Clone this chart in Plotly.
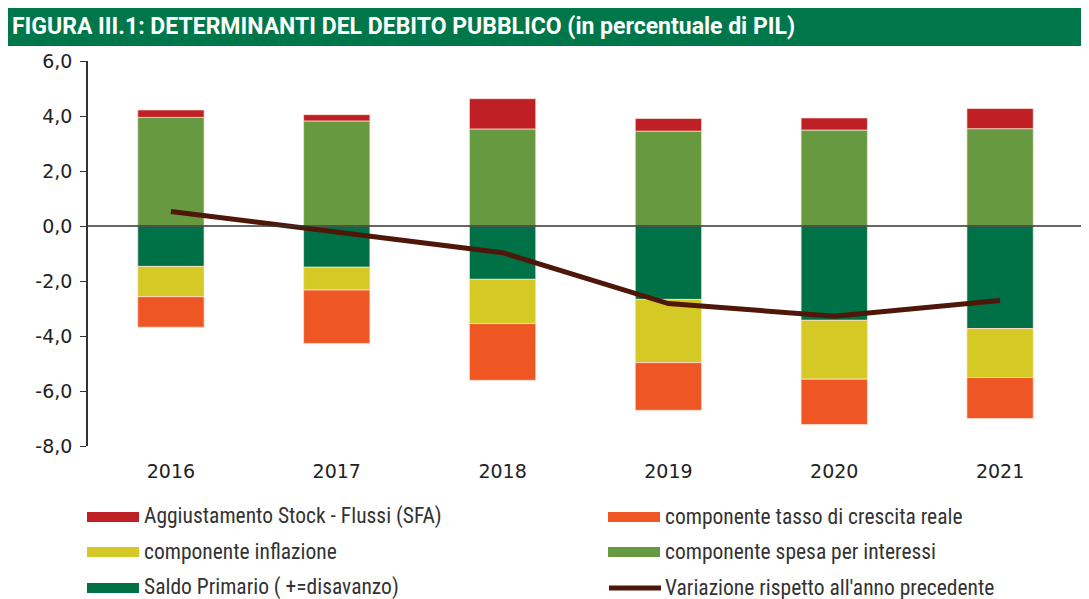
import plotly.graph_objects as go

years = ["2016", "2017", "2018", "2019", "2020", "2021"]
saldo_primario = [-1.47, -1.50, -1.94, -2.67, -3.43, -3.73]
spesa_interessi = [3.95, 3.82, 3.53, 3.45, 3.49, 3.54]
inflazione = [-1.10, -0.83, -1.61, -2.30, -2.14, -1.78]
crescita_reale = [-1.11, -1.94, -2.06, -1.73, -1.65, -1.49]
sfa = [0.27, 0.23, 1.10, 0.46, 0.44, 0.73]
variazione = [0.53, -0.20, -0.97, -2.82, -3.28, -2.71]
y_tick_vals = [6, 4, 2, 0, -2, -4, -6, -8]
y_tick_text = ["6,0", "4,0", "2,0", "0,0", "-2,0", "-4,0", "-6,0", "-8,0"]

names = {
    "sfa": "Aggiustamento Stock - Flussi (SFA)",
    "cr": "componente tasso di crescita reale",
    "inf": "componente inflazione",
    "int": "componente spesa per interessi",
    "sp": "Saldo Primario ( +=disavanzo)",
    "var": "Variazione rispetto all'anno precedente",
}
colors = {
    "sfa": "#be2026",
    "cr": "#ee5624",
    "inf": "#d5c925",
    "int": "#679940",
    "sp": "#007147",
    "var": "#4e1709",
}

OFF = 8  # page body margin
W, H = 1089 - OFF, 599 - OFF
ML, MR, MT, MB = 88 - OFF, 6, 61 - OFF, 153
PW = W - ML - MR
PH = H - MT - MB

COND = "Roboto Condensed, DejaVu Sans Condensed, Roboto, sans-serif"
TICKF = "DejaVu Sans, Liberation Sans, sans-serif"

fig = go.Figure()
xs = list(range(len(years)))
for key, vals in [("sp", saldo_primario), ("int", spesa_interessi), ("inf", inflazione),
                  ("cr", crescita_reale), ("sfa", sfa)]:
    fig.add_trace(go.Bar(
        x=xs, y=vals, name=names[key], showlegend=False,
        marker=dict(color=colors[key], line=dict(color="rgba(255,230,220,0.7)", width=1)),
    ))
fig.add_trace(go.Scatter(
    x=xs, y=variazione, mode="lines", name=names["var"], showlegend=False,
    line=dict(color=colors["var"], width=5),
))


def px(x):
    return (x - OFF - ML) / PW


def py(y):
    return (H - MB - (y - OFF)) / PH


shapes = []
annotations = []
# zero line drawn over the bars
shapes.append(dict(type="line", xref="paper", yref="y", x0=0, x1=1, y0=0, y1=0,
                   line=dict(color="#333333", width=1.5), layer="above"))
# title banner
shapes.append(dict(type="rect", xref="paper", yref="paper", x0=px(7), x1=px(1095),
                   y0=py(46), y1=py(6), fillcolor="#00774a", line=dict(width=0), layer="above"))
annotations.append(dict(xref="paper", yref="paper", x=px(10), y=py(26), xanchor="left",
                        yanchor="middle", showarrow=False,
                        text="<b>FIGURA III.1: DETERMINANTI DEL DEBITO PUBBLICO (in percentuale di PIL)</b>",
                        font=dict(family="Roboto, sans-serif", size=23, color="white")))

legend_items = [
    ("sfa", 87, 517, "bar"), ("cr", 608, 517, "bar"),
    ("inf", 87, 552, "bar"), ("int", 608, 552, "bar"),
    ("sp", 87, 588, "bar"), ("var", 608, 588, "line"),
]
for key, lx, ly, kind in legend_items:
    if kind == "bar":
        shapes.append(dict(type="rect", xref="paper", yref="paper", x0=px(lx), x1=px(lx + 52),
                           y0=py(ly + 5), y1=py(ly - 5), fillcolor=colors[key], line=dict(width=0)))
    else:
        shapes.append(dict(type="line", xref="paper", yref="paper", x0=px(lx + 1), x1=px(lx + 53),
                           y0=py(ly), y1=py(ly), line=dict(color=colors[key], width=5)))
    annotations.append(dict(xref="paper", yref="paper", x=px(lx + 55), y=py(ly - 1), xanchor="left",
                            yanchor="middle", showarrow=False, text=names[key],
                            font=dict(family=COND, size=21.5, color="#333333")))

fig.update_layout(
    width=W, height=H,
    margin=dict(l=ML, r=MR, t=MT, b=MB),
    paper_bgcolor="white", plot_bgcolor="white",
    barmode="relative", bargap=0.6,
    showlegend=False,
    shapes=shapes, annotations=annotations,
    xaxis=dict(range=[-0.5, 5.5], tickmode="array", tickvals=xs, ticktext=years,
               showline=False, ticks="", showgrid=False, zeroline=False,
               tickfont=dict(family=TICKF, size=19, color="#222222"),
               ticklabelstandoff=12),
    xaxis2=dict(range=[-0.5, 5.5], overlaying="x", anchor="free", position=8 / 14,
                tickmode="array", tickvals=[-0.5, 0.5, 1.5, 2.5, 3.5, 4.5, 5.5],
                showticklabels=False, ticks="outside", ticklen=6, tickcolor="#333333",
                showline=True, linecolor="#333333", linewidth=1.5, showgrid=False, zeroline=False),
    yaxis=dict(range=[-8, 6], tickmode="array", tickvals=y_tick_vals, ticktext=y_tick_text,
               showline=True, linecolor="#333333", linewidth=1.5, ticks="outside", ticklen=6,
               tickcolor="#333333", showgrid=False, zeroline=False,
               tickfont=dict(family=TICKF, size=19, color="#222222"),
               ticklabelstandoff=4),
)

fig.write_html("out.html")
